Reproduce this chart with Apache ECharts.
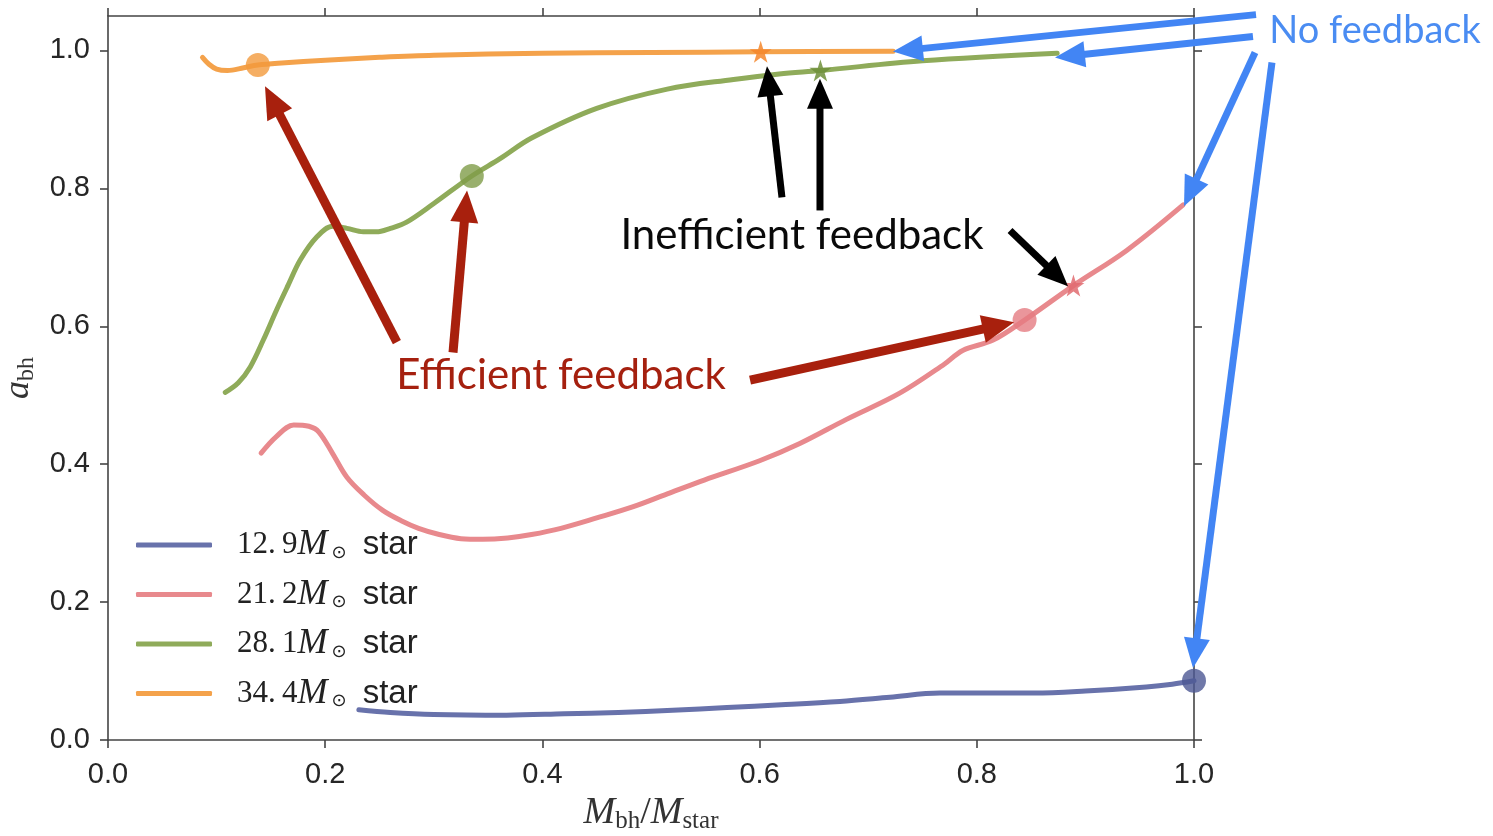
<!DOCTYPE html>
<html><head><meta charset="utf-8">
<script src="https://cdn.jsdelivr.net/npm/echarts@6/dist/echarts.min.js"></script>
<style>html,body{margin:0;padding:0;background:#fff}#c{width:1493px;height:836px}</style>
</head><body><div id="c"></div>
<script>
// ---------- data ----------
const seriesNames = ['12.9', '21.2', '28.1', '34.4'];
const xTicks = [0.0, 0.2, 0.4, 0.6, 0.8, 1.0];
const yTicks = [0.0, 0.2, 0.4, 0.6, 0.8, 1.0];

const curve129 = [[0.231,0.044],[0.26,0.040],[0.30,0.037],[0.367,0.036],[0.42,0.038],[0.47,0.040],[0.52,0.043],[0.57,0.047],[0.62,0.051],[0.674,0.056],[0.72,0.062],[0.766,0.068],[0.80,0.068],[0.853,0.068],[0.90,0.071],[0.956,0.077],[0.98,0.081],[1.0,0.086]];
const curve212 = [[0.141,0.416],[0.155,0.440],[0.171,0.457],[0.185,0.455],[0.194,0.447],[0.207,0.415],[0.22,0.381],[0.236,0.355],[0.253,0.333],[0.27,0.318],[0.286,0.307],[0.305,0.298],[0.325,0.292],[0.345,0.291],[0.368,0.293],[0.39,0.298],[0.417,0.307],[0.45,0.322],[0.483,0.338],[0.515,0.357],[0.549,0.377],[0.60,0.405],[0.637,0.430],[0.68,0.465],[0.729,0.503],[0.77,0.545],[0.787,0.565],[0.815,0.580],[0.844,0.609],[0.889,0.659],[0.938,0.710],[0.99,0.776]];
const curve281 = [[0.108,0.504],[0.12,0.518],[0.131,0.541],[0.143,0.580],[0.155,0.623],[0.166,0.660],[0.177,0.696],[0.192,0.729],[0.207,0.745],[0.22,0.742],[0.235,0.737],[0.247,0.737],[0.26,0.742],[0.275,0.751],[0.30,0.778],[0.335,0.818],[0.361,0.843],[0.39,0.873],[0.45,0.916],[0.515,0.944],[0.576,0.958],[0.618,0.966],[0.656,0.971],[0.75,0.985],[0.874,0.996]];
const curve344 = [[0.087,0.990],[0.093,0.980],[0.10,0.973],[0.11,0.971],[0.125,0.975],[0.138,0.979],[0.16,0.982],[0.20,0.986],[0.25,0.990],[0.30,0.993],[0.40,0.996],[0.50,0.997],[0.60,0.998],[0.723,0.999]];

// efficient-feedback points (circles) and inefficient-feedback points (stars), ordered 34.4, 28.1, 21.2, 12.9
const efficientPts = [[0.138,0.979],[0.335,0.818],[0.844,0.609],[1.0,0.086]];
const inefficientPts = [[0.601,0.998],[0.656,0.971],[0.889,0.659]];

// annotations in data coordinates: [tail, tip]
const redArrows = [[[0.266,0.577],[0.1446,0.948]],[[0.3177,0.562],[0.3306,0.797]],[[0.5912,0.522],[0.8343,0.606]]];
const blackArrows = [[[0.6206,0.787],[0.6068,0.977]],[[0.6556,0.768],[0.6556,0.959]],[[0.8306,0.739],[0.884,0.658]]];
const blueArrows = [[[1.0571,1.052],[0.7228,0.9986]],[[1.0543,1.0203],[0.872,0.9899]],[[1.0562,0.997],[0.9908,0.774]],[[1.0718,0.9826],[0.9991,0.1043]]];
const labels = [
  {text:'Efficient feedback', at:[0.4171,0.529], color:'#a5200f', size:42},
  {text:'Inefficient feedback', at:[0.639,0.732], color:'#0a0a0a', size:42},
  {text:'No feedback', at:[1.1667,1.029], color:'#4a8cf2', size:38}
];

// ---------- style ----------
const lineColors = ['#6872ab', '#e8898d', '#8fab5a', '#f4a24b'];
const circleColors = ['#f39a3c', '#7f9c48', '#e57c82', '#4c5793'];
const starColors = ['#f5862a', '#6f8f3a', '#e06b70'];
const axisColor = '#444';
const tickFont = {fontFamily:'Liberation Sans', fontSize:29, color:'#262626'};

const chart = echarts.init(document.getElementById('c'), null, {renderer:'canvas'});
const curves = [curve129, curve212, curve281, curve344];

const baseAxisX = {
  type:'value', min:0, max:1, interval:0.2,
  axisLine:{show:true, onZero:false, lineStyle:{color:axisColor, width:1.6}},
  axisTick:{show:true, length:8, inside:false, lineStyle:{color:axisColor, width:1.6}, customValues:xTicks},
  splitLine:{show:false}
};
const baseAxisY = {
  type:'value', min:0, max:1.05, interval:0.2,
  axisLine:{show:true, onZero:false, lineStyle:{color:axisColor, width:1.6}},
  axisTick:{show:true, length:8, inside:false, lineStyle:{color:axisColor, width:1.6}, customValues:yTicks},
  splitLine:{show:false}
};

const option = {
  animation:false,
  backgroundColor:'#fff',
  grid:{left:108, right:299, top:16, bottom:96, containLabel:false, outerBoundsMode:'none'},
  xAxis:[
    Object.assign({}, baseAxisX, {
      position:'bottom',
      axisLabel:Object.assign({show:true, margin:20, customValues:xTicks, formatter:v=>v.toFixed(1)}, tickFont),
      name:'{it|M}{sub|bh}{sl|/}{it|M}{sub|star}', nameLocation:'middle', nameGap:53,
      nameTextStyle:{rich:{
        it:{fontFamily:'Liberation Serif', fontStyle:'italic', fontSize:38, color:'#333'},
        sl:{fontFamily:'Liberation Serif', fontSize:38, color:'#333'},
        sub:{fontFamily:'Liberation Serif', fontSize:25, color:'#333', padding:[16,0,0,0]}
      }}
    }),
    Object.assign({}, baseAxisX, {position:'top', axisLabel:{show:false}})
  ],
  yAxis:[
    Object.assign({}, baseAxisY, {
      position:'left',
      axisLabel:Object.assign({show:true, margin:18, customValues:yTicks, formatter:v=>v.toFixed(1)}, tickFont),
      name:'{it|a}{sub|bh}', nameLocation:'middle', nameGap:63, nameRotate:90,
      nameTextStyle:{rich:{
        it:{fontFamily:'Liberation Serif', fontStyle:'italic', fontSize:36, color:'#333'},
        sub:{fontFamily:'Liberation Serif', fontSize:24, color:'#333', padding:[16,0,0,0]}
      }}
    }),
    Object.assign({}, baseAxisY, {position:'right', axisLabel:{show:false}})
  ],
  legend:{
    data:seriesNames, orient:'vertical', left:131, top:522,
    itemWidth:76, itemHeight:5, itemGap:13.5, icon:'roundRect',
    formatter:n => '{n|' + n.replace('.', '.\u2009') + '}{m|M}{o|\u2299}{s| star}',
    textStyle:{rich:{
      n:{fontFamily:'Liberation Serif', fontSize:31, color:'#222', padding:[0,0,0,20]},
      m:{fontFamily:'Liberation Serif', fontStyle:'italic', fontSize:36, color:'#222', padding:[0,4,0,0]},
      o:{fontFamily:'DejaVu Sans', fontSize:18, color:'#222', padding:[16,7,0,0]},
      s:{fontFamily:'Liberation Sans', fontSize:33, color:'#222'}
    }}
  },
  series: curves.map((d,i)=>({
    name:seriesNames[i], type:'line', data:d, showSymbol:false, symbol:'none',
    smooth:0.35, z:2,
    lineStyle:{width:5, color:lineColors[i], cap:'round', join:'round'},
    itemStyle:{color:lineColors[i]}
  })).concat([
    {type:'scatter', name:'efficient', z:3, symbol:'circle', symbolSize:24,
     data:efficientPts.map((p,i)=>({value:p, itemStyle:{color:circleColors[i], opacity:0.8}}))},
    {type:'scatter', name:'inefficient', z:3, symbol:'path://M50,0 L61.8,35.4 L100,35.4 L69.1,57.3 L80.9,93.3 L50,71.4 L19.1,93.3 L30.9,57.3 L0,35.4 L38.2,35.4 Z', symbolSize:22,
     data:inefficientPts.map((p,i)=>({value:p, itemStyle:{color:starColors[i], opacity:0.85}}))}
  ])
};
chart.setOption(option);

// ---------- annotations ----------
const toPx = p => chart.convertToPixel({xAxisIndex:0, yAxisIndex:0}, p);
function arrow(tail, tip, color, w, L, W) {
  const a = toPx(tail), b = toPx(tip);
  const dx = b[0]-a[0], dy = b[1]-a[1], len = Math.hypot(dx,dy);
  const ux = dx/len, uy = dy/len, nx = -uy, ny = ux;
  const bx = b[0]-ux*L, by = b[1]-uy*L;
  return [
    {type:'line', z:100, shape:{x1:a[0], y1:a[1], x2:bx+ux*2, y2:by+uy*2}, style:{stroke:color, lineWidth:w, lineCap:'butt'}},
    {type:'polygon', z:100, shape:{points:[[b[0],b[1]],[bx+nx*W/2, by+ny*W/2],[bx-nx*W/2, by-ny*W/2]]}, style:{fill:color}}
  ];
}
let g = [];
redArrows.forEach(a=>{ g = g.concat(arrow(a[0], a[1], '#a8200d', 9, 32, 28)); });
blackArrows.forEach(a=>{ g = g.concat(arrow(a[0], a[1], '#000', 7, 30, 26)); });
blueArrows.forEach(a=>{ g = g.concat(arrow(a[0], a[1], '#4285f4', 7, 30, 26)); });
labels.forEach(l=>{
  const p = toPx(l.at);
  g.push({type:'text', z:101, x:p[0], y:p[1], style:{text:l.text, fill:l.color, font:l.size + 'px Lato', textAlign:'center', textVerticalAlign:'middle'}});
});
chart.setOption({graphic:{elements:g}});
</script></body></html>
